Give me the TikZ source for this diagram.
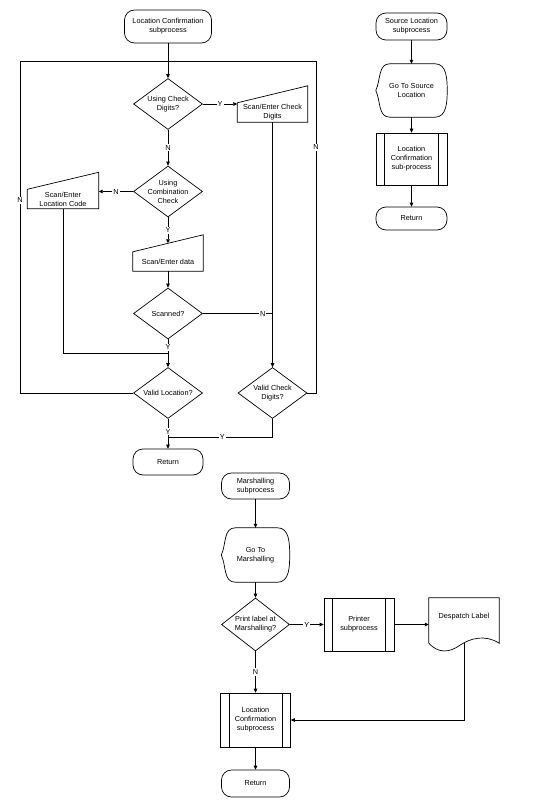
\documentclass[tikz,border=0pt]{standalone}
\usepackage{fontspec}
\setmainfont{Liberation Sans}
\usepackage{tikz}
\usetikzlibrary{shapes.geometric,arrows.meta}
\tikzset{
  flow/.style={draw=black, line width=0.7pt},
  arr/.style={flow, -{Triangle[length=4pt,width=3.6pt]}},
  txt/.style={font=\fontsize{7.3}{9}\selectfont, align=center},
  yn/.style={txt, fill=white, inner sep=1pt},
  term/.style={txt, flow, rounded corners=10pt, minimum width=70pt, minimum height=26pt, inner sep=1pt},
  decision/.style={txt, flow, diamond, shape aspect=1.38, minimum width=69pt, minimum height=51pt, inner sep=-2pt},
  predef/.style={txt, flow, rectangle, minimum width=70pt, minimum height=53pt, inner sep=1pt,
    path picture={
      \draw[flow] ([xshift=8.5pt]path picture bounding box.north west) -- ([xshift=8.5pt]path picture bounding box.south west);
      \draw[flow] ([xshift=-8.5pt]path picture bounding box.north east) -- ([xshift=-8.5pt]path picture bounding box.south east);}},
  manual/.style={txt, minimum width=70pt, minimum height=19pt, inner sep=1pt,
    append after command={\pgfextra{
      \draw[flow] (\tikzlastnode.south west) -- (\tikzlastnode.north west)
        -- ([yshift=17pt]\tikzlastnode.north east) -- (\tikzlastnode.south east) -- cycle;}}},
  display/.style={txt, minimum width=71pt, minimum height=53pt, inner sep=1pt,
    append after command={\pgfextra{
      \draw[flow] ([xshift=14pt]\tikzlastnode.north west) -- ([xshift=-12pt]\tikzlastnode.north east)
        to[out=0,in=90] (\tikzlastnode.east) to[out=-90,in=0] ([xshift=-12pt]\tikzlastnode.south east)
        -- ([xshift=14pt]\tikzlastnode.south west) to[out=180,in=-65] (\tikzlastnode.west)
        to[out=65,in=180] ([xshift=14pt]\tikzlastnode.north west) -- cycle;}}},
  document/.style={txt, minimum width=70pt, minimum height=45pt, inner sep=1pt,
    append after command={\pgfextra{
      \draw[flow] (\tikzlastnode.south west) -- (\tikzlastnode.north west) -- (\tikzlastnode.north east) -- (\tikzlastnode.south east)
        .. controls ([xshift=-14pt,yshift=9pt]\tikzlastnode.south east) and ([xshift=-29pt,yshift=5pt]\tikzlastnode.south east) .. ([xshift=-4pt,yshift=-2pt]\tikzlastnode.south)
        .. controls ([xshift=-14pt,yshift=-9pt]\tikzlastnode.south) and ([xshift=-25pt,yshift=-11pt]\tikzlastnode.south) .. (\tikzlastnode.south west);}}},
}

\begin{document}
\begin{tikzpicture}[x=1pt,y=1pt]
  \useasboundingbox (0,0) rectangle (535,-805);

  \node[term, minimum width=87pt, minimum height=33pt] (lcsub) at (168,-26.5) {Location Confirmation\\subprocess};
  \node[decision] (chkq) at (168,-104) {Using Check\\Digits?};
  \node[manual] (scd) at (272.5,-112.5) {Scan/Enter Check\\Digits};
  \node[decision] (combq) at (168,-191.5) {Using\\Combination\\Check};
  \node[manual, minimum width=71pt] (slc) at (63,-199) {Scan/Enter\\Location Code};
  \node[manual] (sed) at (168,-261.5) {Scan/Enter data};
  \node[decision] (scanq) at (168,-313.5) {Scanned?};
  \node[decision] (locq) at (168,-393) {Valid Location?};
  \node[decision] (cdq) at (272.5,-393) {Valid Check\\Digits?};
  \node[term] (ret1) at (168,-462) {Return};
  \coordinate (loopL) at (20,-61);
  \coordinate (loopR) at (316,-61);
  \coordinate (join) at (168,-61);
  \coordinate (slcin) at (168,-353);
  \coordinate (retin) at (168,-437);

  \draw[arr] (lcsub) -- (chkq);
  \draw[arr] (chkq.east) -- node[yn]{Y} (chkq.east -| scd.west);
  \draw[arr] (chkq) -- node[yn]{N} (combq);
  \draw[arr] (combq.west) -- node[yn]{N} (combq.west -| slc.east);
  \draw[arr] (combq) -- node[yn]{Y} ([yshift=8.5pt]sed.north);
  \draw[arr] (sed) -- (scanq);
  \draw[flow] (scanq.east) -- node[yn,pos=0.86]{N} (scanq.east -| scd.south);
  \draw[arr] (scanq) -- node[yn,pos=0.28]{Y} (locq);
  \draw[flow] (slc.south) |- (slcin);
  \draw[arr] (scd) -- (cdq);
  \draw[arr] (locq) -- node[yn,pos=0.43]{Y} (ret1);
  \draw[flow] (cdq.south) |- node[yn,pos=0.74]{Y} (retin);
  \draw[flow] (locq.west) -| node[yn,pos=0.79]{N} (loopL) -- (join);
  \draw[flow] (cdq.east) -| node[yn,pos=0.87]{N} (loopR) -- (join);

  \node[term, minimum width=71pt, minimum height=27pt] (slsub) at (411.5,-26.5) {Source Location\\subprocess};
  \node[display] (gosrc) at (411.5,-90.5) {Go To Source\\Location};
  \node[predef, minimum width=71pt, minimum height=52pt] (lcp) at (411.5,-159) {Location\\Confirmation\\sub-process};
  \node[term, minimum width=71pt, minimum height=23pt] (ret2) at (411.5,-218.5) {Return};
  \draw[arr] (slsub) -- (gosrc);
  \draw[arr] (gosrc) -- (lcp);
  \draw[arr] (lcp) -- (ret2);

  \node[term, minimum width=68pt] (msub) at (255.5,-486) {Marshalling\\subprocess};
  \node[display, minimum width=68pt, minimum height=54pt] (gomar) at (255.5,-555) {Go To\\Marshalling};
  \node[decision, minimum width=68pt, minimum height=53pt] (prtq) at (255.5,-624.5) {Print label at\\Marshalling?};
  \node[predef] (prsub) at (359,-624.5) {Printer\\subprocess};
  \node[document] (dlab) at (464,-620.5) {Despatch Label\\\mbox{}};
  \node[predef, minimum height=54pt] (lcp2) at (255.5,-720) {Location\\Confirmation\\subprocess};
  \node[term, minimum width=68pt, minimum height=27pt] (ret3) at (255.5,-783.5) {Return};
  \draw[arr] (msub) -- (gomar);
  \draw[arr] (gomar) -- (prtq);
  \draw[arr] (prtq) -- node[yn]{Y} (prsub);
  \draw[arr] (prsub.east) -- (prsub.east -| dlab.west);
  \draw[arr] (prtq) -- node[yn]{N} (lcp2);
  \draw[arr] (dlab.south) |- (lcp2.east);
  \draw[arr] (lcp2) -- (ret3);
\end{tikzpicture}
\end{document}
